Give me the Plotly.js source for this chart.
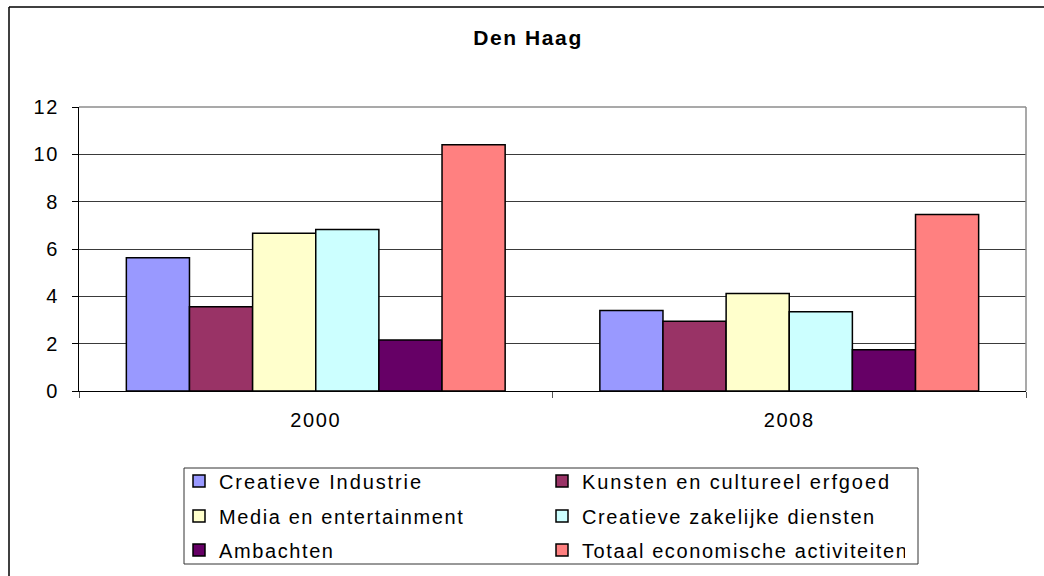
<!DOCTYPE html>
<html>
<head>
<meta charset="utf-8">
<script src="https://cdn.plot.ly/plotly-3.0.1.min.js"></script>
<style>
  html, body { margin: 0; padding: 0; background: #fff; }
  #chart { width: 1044px; height: 576px; }
  #chart svg text { letter-spacing: 1.6px; }
  #chart svg text.legendtext { letter-spacing: 1.9px; }
</style>
</head>
<body>
<div id="chart"></div>
<script>
const years = ['2000', '2008'];
const seriesNames = [
  'Creatieve Industrie',
  'Kunsten en cultureel erfgoed',
  'Media en entertainment',
  'Creatieve zakelijke diensten',
  'Ambachten',
  'Totaal economische activiteiten'
];
const creatieveIndustrie = [5.63, 3.40];
const kunstenErfgoed = [3.56, 2.95];
const mediaEntertainment = [6.67, 4.12];
const zakelijkeDiensten = [6.82, 3.35];
const ambachten = [2.15, 1.74];
const totaalEconomisch = [10.40, 7.46];
const seriesValues = [creatieveIndustrie, kunstenErfgoed, mediaEntertainment, zakelijkeDiensten, ambachten, totaalEconomisch];
const seriesColors = ['#9999FF', '#993366', '#FFFFCC', '#CCFFFF', '#660066', '#FF8080'];
const legendIds = ['legend', 'legend', 'legend2', 'legend2', 'legend3', 'legend3'];
const yTicks = [0, 2, 4, 6, 8, 10, 12];

const FONT = 'Liberation Sans, Arial, sans-serif';

const traces = seriesNames.map((name, i) => ({
  type: 'bar',
  name: name,
  x: years,
  y: seriesValues[i],
  legend: legendIds[i],
  marker: { color: seriesColors[i], line: { color: '#000', width: 1.5 } },
  hoverinfo: 'none'
}));

const W = 1044, H = 576;
const plotL = 79, plotR = 1026, plotT = 107, plotB = 391;
const px2x = p => (p - plotL) / (plotR - plotL);
const px2y = p => (plotB - p) / (plotB - plotT);

function legendRow(yPix) {
  return {
    orientation: 'h',
    xref: 'paper', x: px2x(179), xanchor: 'left',
    yref: 'container', y: 1 - yPix / H, yanchor: 'middle',
    entrywidth: 318, entrywidthmode: 'pixels',
    borderwidth: 0,
    bgcolor: 'rgba(0,0,0,0)',
    font: { family: FONT, size: 20, color: '#000' },
    traceorder: 'normal'
  };
}

const layout = {
  width: W, height: H,
  paper_bgcolor: '#fff', plot_bgcolor: '#fff',
  margin: { l: plotL, r: W - plotR, t: plotT, b: H - plotB },
  title: {
    text: '<b>Den Haag</b>',
    font: { family: FONT, size: 21, color: '#000' },
    x: 528 / W, xref: 'container', xanchor: 'center',
    y: 1 - 38 / H, yref: 'container', yanchor: 'middle'
  },
  barmode: 'group', bargap: 0.2, bargroupgap: 0,
  showlegend: true,
  legend: legendRow(481),
  legend2: legendRow(516),
  legend3: legendRow(550),
  xaxis: {
    type: 'category',
    showline: true, linecolor: '#000', linewidth: 1,
    ticks: 'outside', tickson: 'boundaries', ticklen: 6, tickcolor: '#555',
    ticklabelstandoff: 11,
    tickfont: { family: FONT, size: 20, color: '#000' },
    showgrid: false, zeroline: false, fixedrange: true
  },
  yaxis: {
    range: [0, 12], tickvals: yTicks, ticktext: yTicks.map(String),
    showline: true, linecolor: '#000', linewidth: 1,
    ticks: 'outside', ticklen: 6, tickcolor: '#000',
    ticklabelstandoff: 9,
    tickfont: { family: FONT, size: 20, color: '#000' },
    showgrid: true, gridcolor: '#3a3a3a', gridwidth: 1,
    zeroline: false, fixedrange: true
  },
  shapes: [
    { type: 'line', xref: 'paper', yref: 'paper', x0: 0, x1: 1, y0: 1, y1: 1, line: { color: '#8c8c8c', width: 1.5 } },
    { type: 'line', xref: 'paper', yref: 'paper', x0: 1, x1: 1, y0: 0, y1: 1, line: { color: '#8c8c8c', width: 1.5 } },
    { type: 'line', xref: 'paper', yref: 'paper', x0: px2x(9), x1: px2x(9), y0: px2y(7), y1: px2y(600), line: { color: '#000', width: 1.5 } },
    { type: 'line', xref: 'paper', yref: 'paper', x0: px2x(9), x1: px2x(1100), y0: px2y(7), y1: px2y(7), line: { color: '#000', width: 1.5 } },
    { type: 'rect', xref: 'paper', yref: 'paper', x0: px2x(184), x1: px2x(918), y0: px2y(564), y1: px2y(468), line: { color: '#333', width: 1 }, fillcolor: 'rgba(0,0,0,0)' }
  ]
};

Plotly.newPlot('chart', traces, layout, { displayModeBar: false, staticPlot: true });
</script>
</body>
</html>
